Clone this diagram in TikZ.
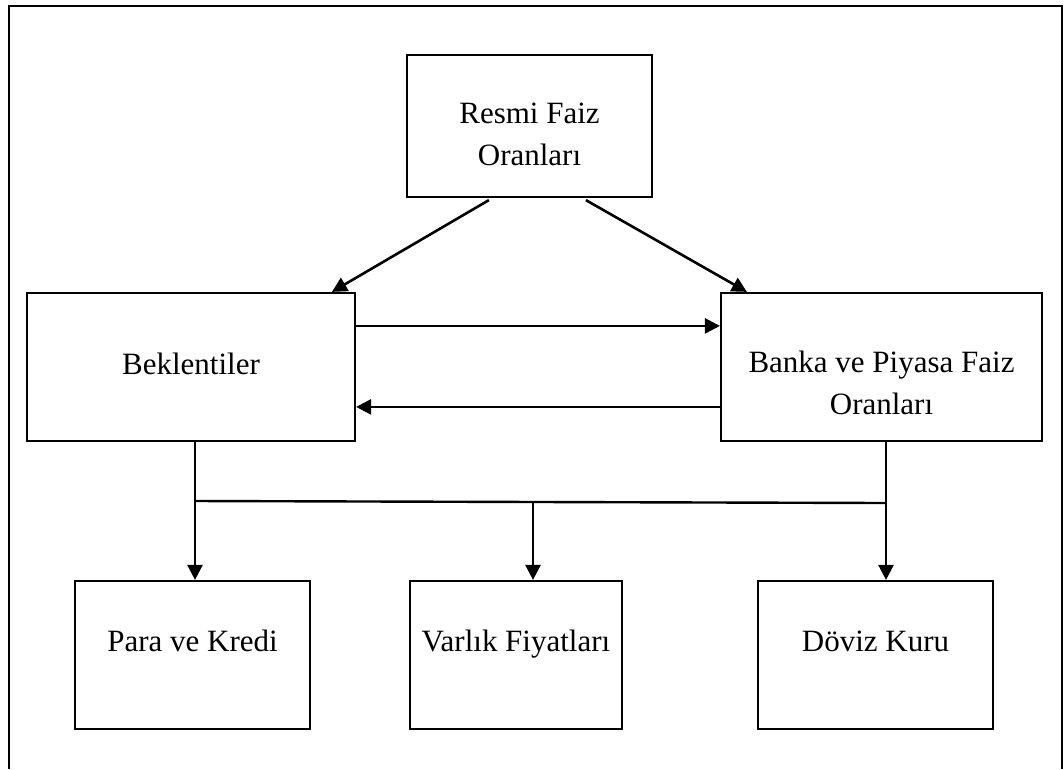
\documentclass[tikz,border=0pt]{standalone}
\usepackage{fontspec}
\setmainfont{Liberation Serif}
\usetikzlibrary{arrows.meta,calc}
\begin{document}
\begin{tikzpicture}[x=1pt,y=-1pt,
  box/.style={draw=black,line width=2.2pt,rectangle,inner sep=0pt},
  lbl/.style={font=\fontsize{31}{42}\selectfont,align=center,inner sep=0pt},
  conn/.style={line width=2.4pt},
  arr/.style={line width=2.6pt,-{Triangle[length=15pt,width=15pt]}}]
\useasboundingbox (0,0) rectangle (1064,769);
% outer frame (open at the bottom edge of the page)
\coordinate (fbl) at (9,769);
\coordinate (ftl) at (9,6);
\coordinate (ftr) at (1062,6);
\coordinate (fbr) at (1062,769);
\draw[line width=2.2pt] (fbl) -- (ftl) -- (ftr) -- (fbr);
% boxes
\node[box,minimum width=245pt,minimum height=142pt] (resmi) at (529.5,126) {};
\node[box,minimum width=328pt,minimum height=148pt] (bek) at (191,367) {};
\node[box,minimum width=321pt,minimum height=148pt] (banka) at (881.5,367) {};
\node[box,minimum width=235pt,minimum height=148pt] (para) at (192.5,655) {};
\node[box,minimum width=212pt,minimum height=148pt] (varlik) at (516,655) {};
\node[box,minimum width=235pt,minimum height=148pt] (doviz) at (875.5,655) {};
% texts
\node[lbl] (resmiT) at (529.5,134) {Resmi Faiz\\Oranları};
\node[lbl] (bekT) at (191,364) {Beklentiler};
\node[lbl] (bankaT) at (881.5,383) {Banka ve Piyasa Faiz\\Oranları};
\node[lbl,anchor=base] (paraT) at (192.5,651) {Para ve Kredi};
\node[lbl,anchor=base] (varlikT) at (516,651) {Varlık Fiyatları};
\node[lbl,anchor=base] (dovizT) at (875.5,651) {Döviz Kuru};
% connectors
\draw[arr] ($(resmi.south west)+(83,2)$) -- ($(bek.north west)+(306,0)$);
\draw[arr] ($(resmi.south west)+(180,2)$) -- ($(banka.north west)+(27,0)$);
\draw[arr] ($(bek.north east)+(0,34)$) -- ($(banka.north west)+(0,34)$);
\draw[arr] ($(banka.north west)+(0,115)$) -- ($(bek.north east)+(0,115)$);
\coordinate (busL) at (195,501);
\coordinate (busM) at (533,502);
\coordinate (busR) at (886,503);
\draw[conn] (busL) -- (busR);
\draw[arr] (bek.south -| busL) -- (para.north -| busL);
\draw[arr] (busM) -- (varlik.north -| busM);
\draw[arr] (banka.south -| busR) -- (doviz.north -| busR);
\end{tikzpicture}
\end{document}
